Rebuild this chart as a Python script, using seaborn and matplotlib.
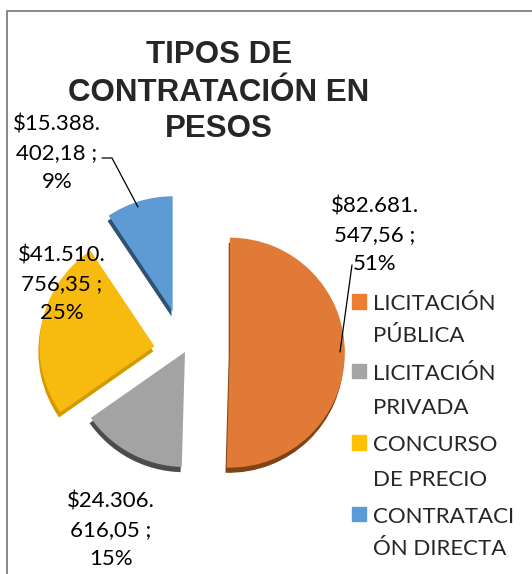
import matplotlib
matplotlib.use("Agg")
import matplotlib.pyplot as plt
from matplotlib.patches import Rectangle
import seaborn as sns

# data
categories = ["LICITACIÓN PÚBLICA", "LICITACIÓN PRIVADA", "CONCURSO DE PRECIO", "CONTRATACIÓN DIRECTA"]
legend_labels = ["LICITACIÓN\nPÚBLICA", "LICITACIÓN\nPRIVADA", "CONCURSO\nDE PRECIO", "CONTRATACI\nÓN DIRECTA"]
amounts = [82681547.56, 24306616.05, 41510756.35, 15388402.18]
value_labels = ["$82.681.\n547,56 ;\n51%", "$24.306.\n616,05 ;\n15%", "$41.510.\n756,35 ;\n25%", "$15.388.\n402,18 ;\n9%"]

colors = ["#E07A36", "#A3A3A3", "#F7BB10", "#5E9AD3"]
side_colors = ["#7E4415", "#4C4C4C", "#D39A00", "#2F5172"]
legend_colors = ["#ED7D31", "#A5A5A5", "#FFC000", "#5B9BD5"]
explode = [0.39, 0.0, 0.27, 0.37]

sns.set_theme(style="white")
plt.rcParams["font.family"] = ["Lato", "DejaVu Sans"]

W, H = 532, 574
CX, CY, R = 185, 352, 115  # pie centre / radius in pixels


def px(x, y):
    return (x - CX) / R, (CY - y) / R


fig = plt.figure(figsize=(W / 100, H / 100), dpi=100)
ax = fig.add_axes([0, 0, 1, 1])

# darker "side" of the 3d pie, then the top face
ax.pie(amounts, explode=explode, startangle=90, counterclock=False,
       colors=side_colors, center=(-0.01, -0.045), radius=1,
       wedgeprops=dict(linewidth=0))
wedges, _ = ax.pie(amounts, explode=explode, startangle=90, counterclock=False,
                   colors=colors, radius=1, wedgeprops=dict(linewidth=0))

ax.set_aspect("auto")
ax.set_xlim((0 - CX) / R, (W - CX) / R)
ax.set_ylim((CY - H) / R, CY / R)
ax.axis("off")

# data labels
label_pos = [(375, 235), (111, 530), (62, 284), (57, 153)]
for text, (lx, ly) in zip(value_labels, label_pos):
    x, y = px(lx, ly)
    ax.text(x, y, text, ha="center", va="center", multialignment="center",
            fontsize=16, linespacing=1.55, color="black")

# leader lines
lx, ly = zip(*[px(102, 158), px(112, 158), px(138, 207)])
ax.plot(lx, ly, color="black", lw=0.9)
lx, ly = zip(*[px(352, 265), px(340, 352)])
ax.plot(lx, ly, color="black", lw=0.9)

# legend
handles = [Rectangle((0, 0), 1, 1, color=c) for c in legend_colors]
leg = ax.legend(handles, legend_labels, loc="upper left",
                bbox_to_anchor=(352 / W, 1 - 294 / H), bbox_transform=fig.transFigure,
                frameon=False, fontsize=16, handlelength=0.64, handleheight=0.64,
                handletextpad=0.32, labelspacing=0.77, borderpad=0, borderaxespad=0)
for t in leg.get_texts():
    second = t.get_text().split("\n")[1]
    t.set_linespacing(1.78 if any(ch in second for ch in "ÁÉÍÓÚ") else 1.9)
# square next to the first line of each entry
for col in leg._legend_handle_box.get_children():
    for item in col.get_children():
        item.align = "top"

# title
title_lines = ["TIPOS DE", "CONTRATACIÓN EN", "PESOS"]
baselines = [63, 101, 137]
for line, b in zip(title_lines, baselines):
    fig.text(219 / W, 1 - b / H, line, ha="center", va="baseline",
             fontsize=22.5, fontweight="bold", family="Liberation Sans")

# chart border
fig.patches.append(Rectangle((7 / W, -0.1), 2, 1.1 - 11 / H, transform=fig.transFigure,
                             fill=False, edgecolor="#808080", lw=1.3))

fig.savefig("out.png", dpi=100, facecolor="white")
